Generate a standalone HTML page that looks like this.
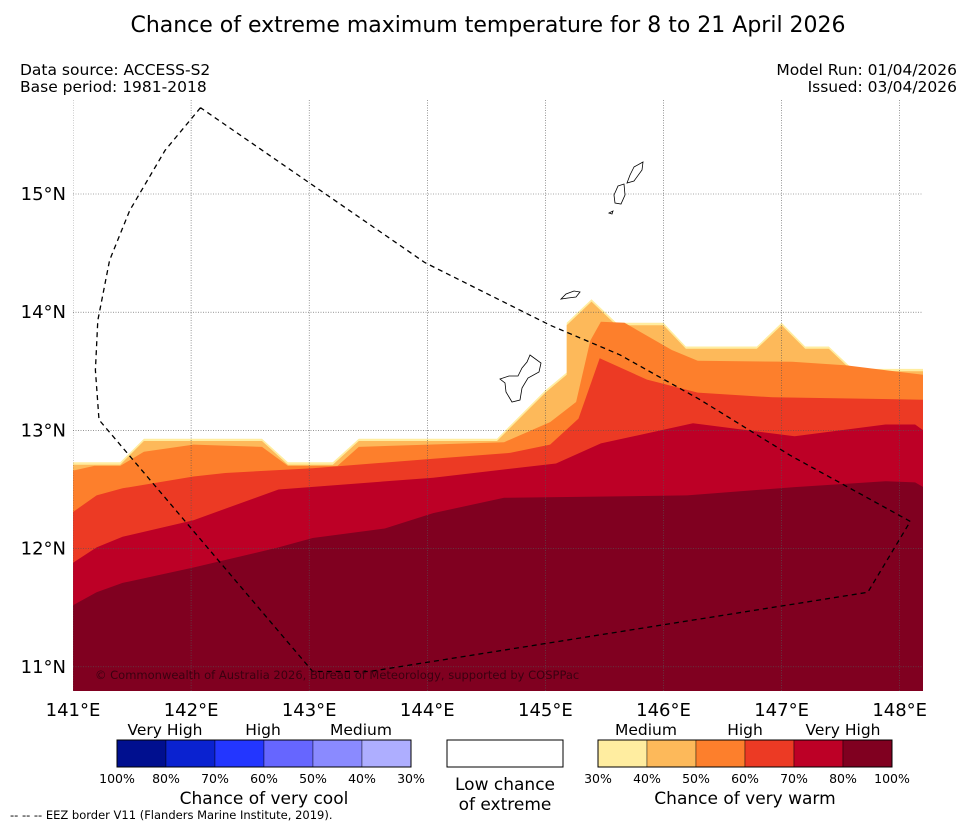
<!DOCTYPE html>
<html><head><meta charset="utf-8">
<style>
body{margin:0;background:#fff;}
svg{display:block;font-family:"DejaVu Sans","Liberation Sans",sans-serif;}
</style></head>
<body>
<svg id="chart" width="977" height="827" viewBox="0 0 977 827" xmlns="http://www.w3.org/2000/svg">
<text x="488" y="32" font-size="22" text-anchor="middle" fill="#000">Chance of extreme maximum temperature for 8 to 21 April 2026</text>
<text x="20" y="75" font-size="15.5">Data source: ACCESS-S2</text>
<text x="20" y="92" font-size="15.5">Base period: 1981-2018</text>
<text x="957" y="75" font-size="15.5" text-anchor="end">Model Run: 01/04/2026</text>
<text x="957" y="92" font-size="15.5" text-anchor="end">Issued: 03/04/2026</text>
<defs><clipPath id="mapclip"><rect x="73" y="100" width="850" height="591"/></clipPath></defs>
<g id="map" clip-path="url(#mapclip)"></g>
<g id="axes"></g>
<text x="95" y="679" font-size="11.5" fill="#3a0010">© Commonwealth of Australia 2026, Bureau of Meteorology, supported by COSPPac</text>
<g id="legend"></g>
<text x="10" y="819" font-size="11.5">--  --  -- EEZ border V11 (Flanders Marine Institute, 2019).</text>
</svg>
<script>
// ---- data ----
const lonTicks = [141,142,143,144,145,146,147,148];
const latTicks = [11,12,13,14,15];
const levelNames = ['30','40','50','60','70','80'];
const levelColors = ['#ffeda0','#fdb95a','#fd7f2c','#ec3a24','#bd0026','#800020'];
const lon30 = [141,141.40,141.60,142.60,142.82,143.20,143.42,144.59,145.00,145.18,145.18,145.39,145.60,146.00,146.19,146.79,147.00,147.20,147.40,147.60,148.20];
const lat30 = [12.73,12.73,12.93,12.93,12.73,12.73,12.93,12.93,13.34,13.49,13.91,14.11,13.91,13.91,13.71,13.71,13.91,13.71,13.71,13.52,13.52];
const lon40 = [141,141.40,141.60,142.60,142.82,143.20,143.42,144.59,145.00,145.18,145.18,145.39,145.60,146.00,146.19,146.79,147.00,147.20,147.40,147.60,148.20];
const lat40 = [12.71,12.71,12.91,12.91,12.71,12.71,12.91,12.91,13.32,13.47,13.89,14.09,13.89,13.89,13.69,13.69,13.89,13.69,13.69,13.50,13.50];
const lon50 = [141,141.18,141.40,141.60,142.02,142.60,142.82,143.24,143.42,144.65,145.04,145.26,145.38,145.47,145.67,146.07,146.29,147.09,147.55,148.20];
const lat50 = [12.66,12.70,12.70,12.82,12.88,12.86,12.70,12.70,12.86,12.90,13.07,13.24,13.76,13.92,13.91,13.68,13.59,13.58,13.55,13.47];
const lon60 = [141,141.20,141.42,142.02,142.29,143.03,144.05,144.70,145.04,145.28,145.46,145.86,146.29,146.92,148.20];
const lat60 = [12.31,12.45,12.51,12.61,12.64,12.68,12.76,12.81,12.88,13.10,13.61,13.43,13.32,13.28,13.26];
const lon70 = [141,141.20,141.42,142.02,142.74,144.05,145.09,145.47,146.25,147.11,147.88,148.13,148.20];
const lat70 = [11.88,12.01,12.10,12.24,12.50,12.60,12.72,12.89,13.06,12.95,13.05,13.05,13.00];
const lon80 = [141,141.20,141.42,142.02,142.74,143.03,143.64,144.05,144.65,146.20,147.11,147.88,148.13,148.20];
const lat80 = [11.52,11.63,11.71,11.84,12.01,12.09,12.17,12.30,12.43,12.45,12.52,12.57,12.56,12.52];
const eezLon = [142.08,141.78,141.48,141.31,141.21,141.19,141.22,143.03,143.51,147.73,148.09,147.07,146.31,145.63,145.04,143.98,142.08];
const eezLat = [15.73,15.37,14.86,14.44,13.93,13.51,13.09,10.96,10.96,11.63,12.23,12.79,13.26,13.64,13.89,14.42,15.73];

// ---- axis functions ----
const x = lon => 73 + (lon - 141) * 118.1;
const y = lat => 194 + (15 - lat) * 118.2;
const NS = 'http://www.w3.org/2000/svg';
function mk(tag, attrs, parent){const e=document.createElementNS(NS,tag);for(const k in attrs)e.setAttribute(k,attrs[k]);parent.appendChild(e);return e;}

const map = document.getElementById('map');
const levels = [[lon30,lat30],[lon40,lat40],[lon50,lat50],[lon60,lat60],[lon70,lat70],[lon80,lat80]];
levels.forEach((lv,i)=>{
  const [lo,la]=lv;
  let d='M'+x(lo[0])+','+y(10.7);
  for(let j=0;j<lo.length;j++) d+=' L'+x(lo[j]).toFixed(1)+','+y(la[j]).toFixed(1);
  d+=' L'+x(lo[lo.length-1])+','+y(10.7)+' Z';
  const p=mk('path',{d:d,fill:levelColors[i]},map);
  
  
});
lonTicks.forEach(v=>{
  const l=mk('line',{x1:x(v),x2:x(v),y1:100,y2:691,stroke:'#555','stroke-width':0.6,'stroke-dasharray':'1,1.5'},map);
  
  
});
latTicks.forEach(v=>{
  const l=mk('line',{x1:73,x2:923,y1:y(v),y2:y(v),stroke:'#555','stroke-width':0.6,'stroke-dasharray':'1,1.5'},map);
  
  
});
const islands=[
 'M530,355 L541,363 L539,372 L528,378 L522,388 L520,400 L512,402 L506,392 L505,383 L500,379 L509,376 L518,376 L522,368 L527,362 Z',
 'M561,299 L566,294 L574,291 L580,292 L576,297 L568,298 Z',
 'M634,167 L643,162 L642,170 L634,181 L627,183 L630,175 Z',
 'M618,186 L624,184 L625,195 L621,204 L615,203 L614,195 Z',
 'M609,213 L613,211 L612,214 Z'];
islands.forEach(d=>{
  const p=mk('path',{d:d,fill:'#fff',stroke:'#000','stroke-width':0.8},map);
  
  
});
let ed='';
eezLon.forEach((v,j)=>{ed+=(j?' L':'M')+x(v).toFixed(1)+','+y(eezLat[j]).toFixed(1);});
const eez=mk('path',{d:ed,fill:'none',stroke:'#000','stroke-width':1.3,'stroke-dasharray':'5,4'},map);



const axes=document.getElementById('axes');
lonTicks.forEach(v=>{
  const t=mk('text',{x:x(v),y:716,'font-size':18,'text-anchor':'middle'},axes);
  t.textContent=v+'°E';
  
  
});
latTicks.forEach(v=>{
  const t=mk('text',{x:66,y:y(v)+6,'font-size':18,'text-anchor':'end'},axes);
  t.textContent=v+'°N';
  
  
});

const coolColors=['#000f8f','#0a22d0','#2336ff','#6666ff','#8a8aff','#aeaeff'];
const coolTicks=['100%','80%','70%','60%','50%','40%','30%'];
const warmTicks=['30%','40%','50%','60%','70%','80%','100%'];
const leg=document.getElementById('legend');
function txt(s,xx,yy,sz,name){const t=mk('text',{x:xx,y:yy,'font-size':sz,'text-anchor':'middle'},leg);t.textContent=s;return t;}
coolColors.forEach((c,i)=>{
  const r=mk('rect',{x:117+i*49,y:740,width:49,height:27,fill:c,stroke:'#000','stroke-width':0.4},leg);
  
  
});
const cb=mk('rect',{x:117,y:740,width:294,height:27,fill:'none',stroke:'#000','stroke-width':1},leg);


levelColors.forEach((c,i)=>{
  const r=mk('rect',{x:598+i*49,y:740,width:49,height:27,fill:c,stroke:'#000','stroke-width':0.4},leg);
  
  
});
const wbb=mk('rect',{x:598,y:740,width:294,height:27,fill:'none',stroke:'#000','stroke-width':1},leg);


const wb=mk('rect',{x:447,y:740,width:116,height:27,fill:'#fff',stroke:'#000','stroke-width':1},leg);


coolTicks.forEach((s,i)=>txt(s,117+i*49,783,12.5,'cool-tick-label'));
warmTicks.forEach((s,i)=>txt(s,598+i*49,783,12.5,'warm-tick-label'));
txt('Very High',165,735,15.5,'cool-very-high-label');
txt('High',263,735,15.5,'cool-high-label');
txt('Medium',361,735,15.5,'cool-medium-label');
txt('Medium',646,735,15.5,'warm-medium-label');
txt('High',745,735,15.5,'warm-high-label');
txt('Very High',843,735,15.5,'warm-very-high-label');
txt('Chance of very cool',264,804,17,'cool-legend-title');
txt('Chance of very warm',745,804,17,'warm-legend-title');
txt('Low chance',505,790,17,'low-chance-label');
txt('of extreme',505,810,17,'low-chance-label-2');
</script>
</body></html>
